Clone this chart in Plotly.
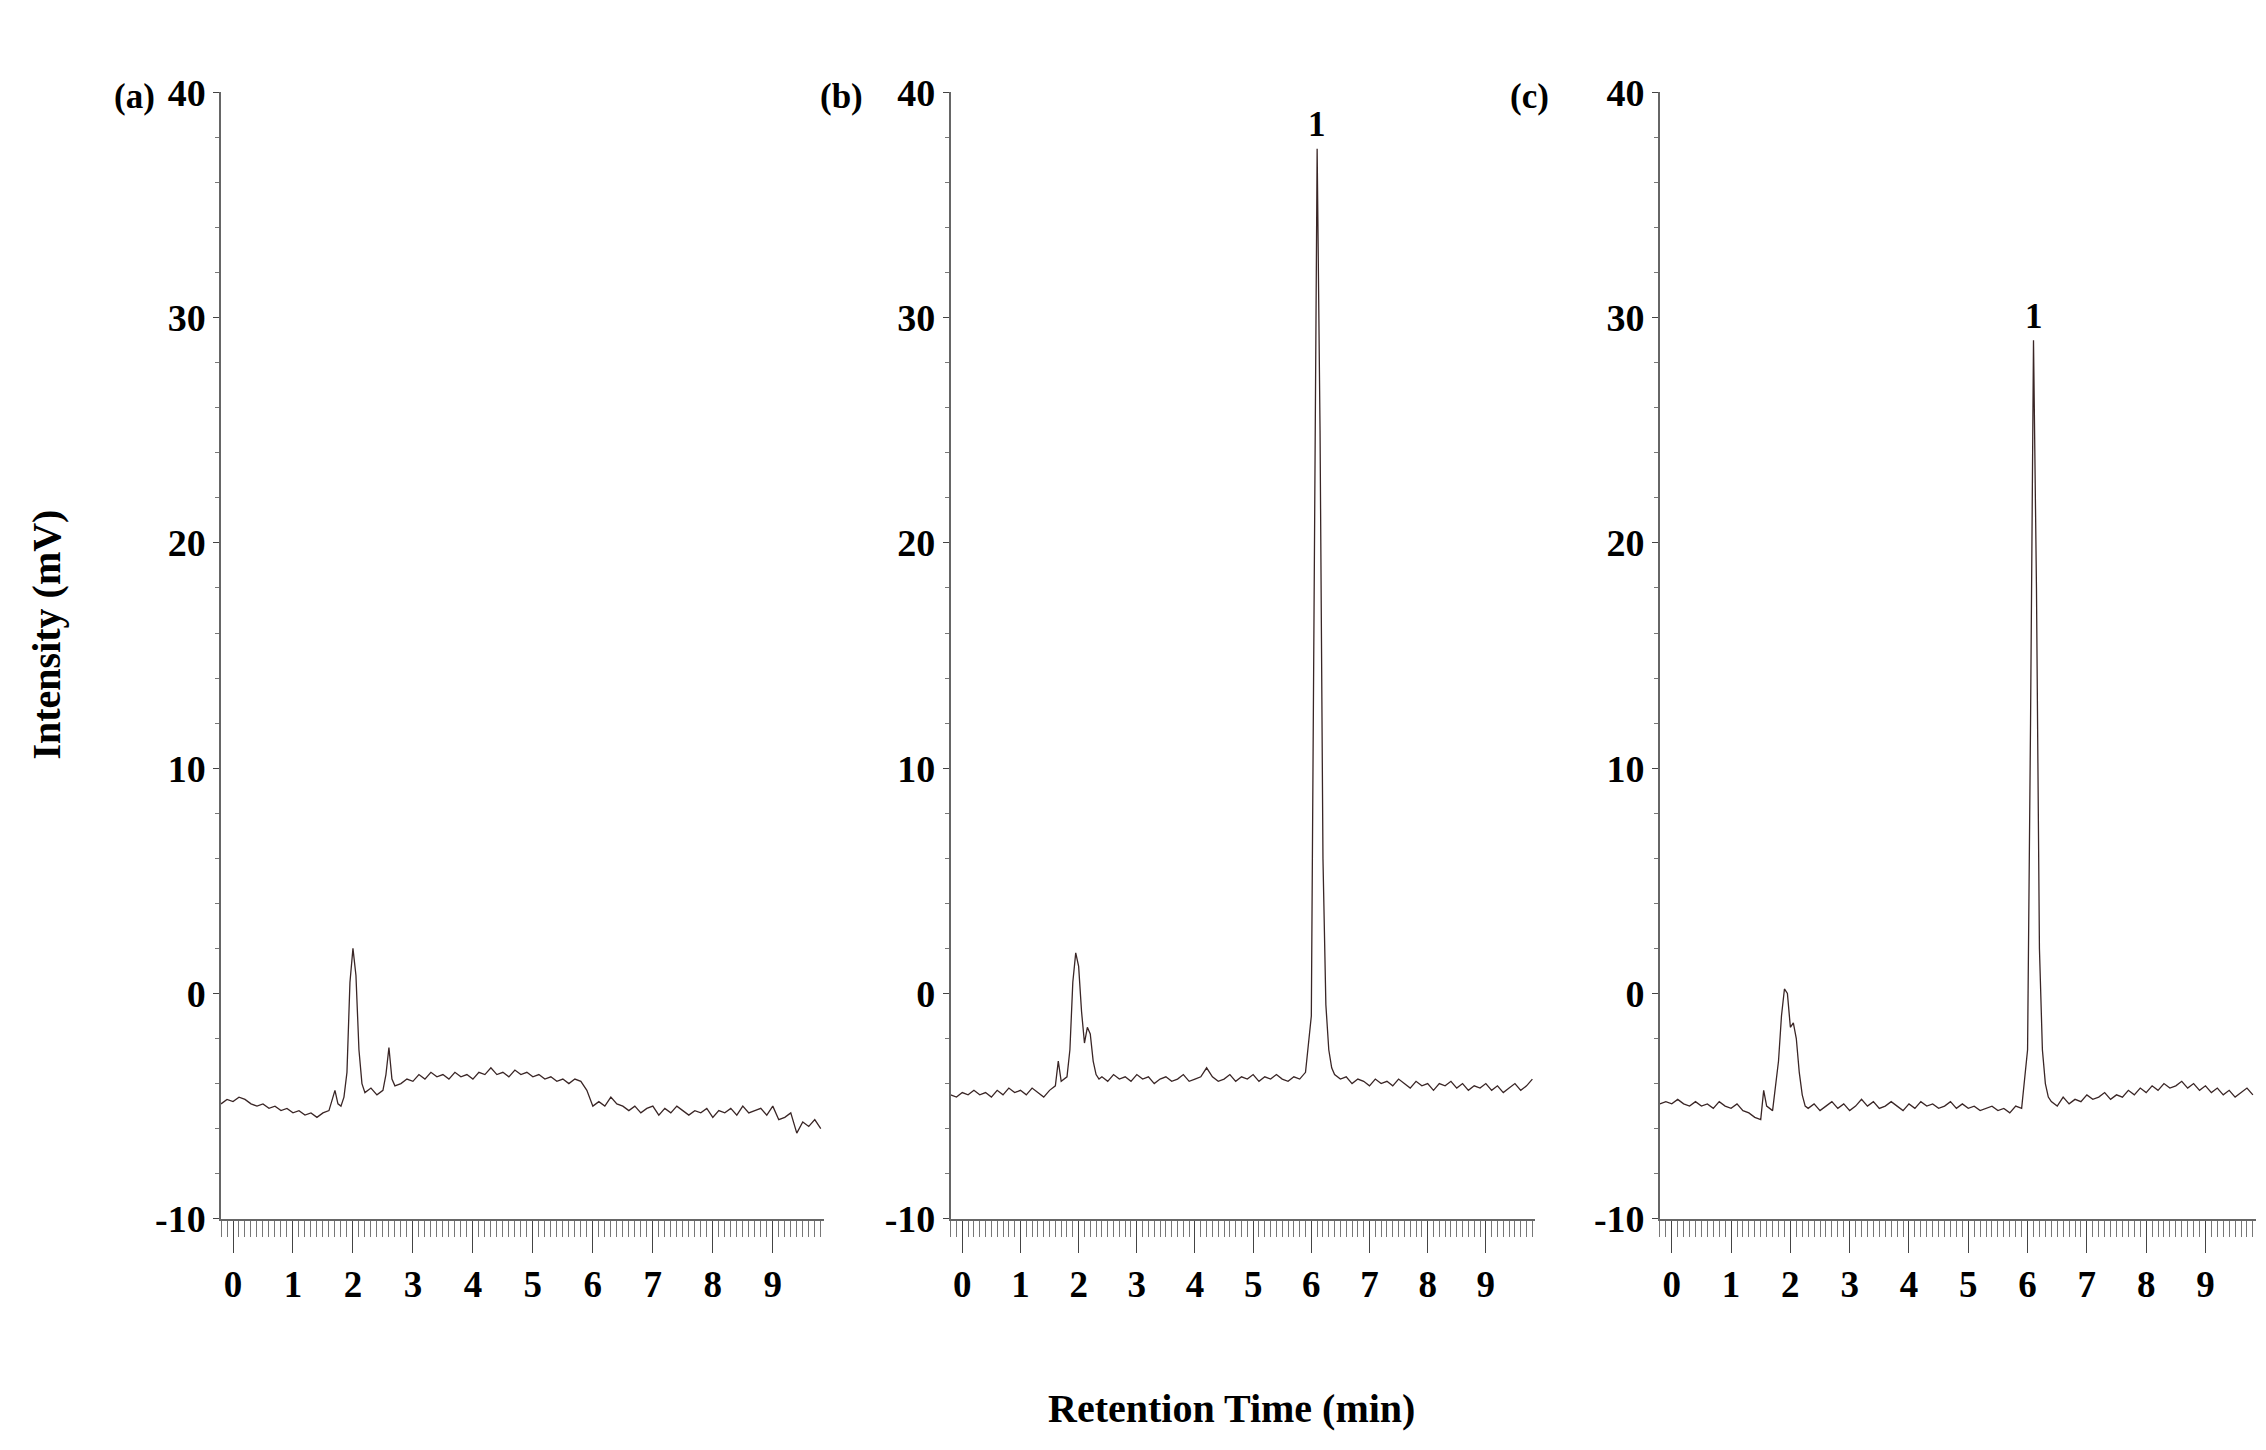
import plotly.graph_objects as go

# Panel (a)
a_x = [-0.2,-0.1,0.0,0.1,0.2,0.3,0.4,0.5,0.6,0.7,0.8,0.9,1.0,1.1,1.2,1.3,1.4,1.5,1.6,1.7,1.75,1.8,1.85,1.9,1.95,2.0,2.05,2.1,2.15,2.2,2.3,2.4,2.5,2.55,2.6,2.65,2.7,2.8,2.9,3.0,3.1,3.2,3.3,3.4,3.5,3.6,3.7,3.8,3.9,4.0,4.1,4.2,4.3,4.4,4.5,4.6,4.7,4.8,4.9,5.0,5.1,5.2,5.3,5.4,5.5,5.6,5.7,5.8,5.9,6.0,6.1,6.2,6.3,6.4,6.5,6.6,6.7,6.8,6.9,7.0,7.1,7.2,7.3,7.4,7.5,7.6,7.7,7.8,7.9,8.0,8.1,8.2,8.3,8.4,8.5,8.6,8.7,8.8,8.9,9.0,9.1,9.2,9.3,9.4,9.5,9.6,9.7,9.8]
a_y = [-4.9,-4.7,-4.8,-4.6,-4.7,-4.9,-5.0,-4.9,-5.1,-5.0,-5.2,-5.1,-5.3,-5.2,-5.4,-5.3,-5.5,-5.3,-5.2,-4.3,-4.9,-5.0,-4.6,-3.5,0.5,2.0,0.8,-2.5,-4.0,-4.4,-4.2,-4.5,-4.3,-3.6,-2.4,-3.8,-4.1,-4.0,-3.8,-3.9,-3.6,-3.8,-3.5,-3.7,-3.6,-3.8,-3.5,-3.7,-3.6,-3.8,-3.5,-3.6,-3.3,-3.6,-3.5,-3.7,-3.4,-3.6,-3.5,-3.7,-3.6,-3.8,-3.7,-3.9,-3.8,-4.0,-3.8,-3.9,-4.3,-5.0,-4.8,-5.0,-4.6,-4.9,-5.0,-5.2,-5.0,-5.3,-5.1,-5.0,-5.4,-5.1,-5.3,-5.0,-5.2,-5.4,-5.2,-5.3,-5.1,-5.5,-5.2,-5.3,-5.1,-5.4,-5.0,-5.3,-5.2,-5.1,-5.4,-5.0,-5.6,-5.5,-5.3,-6.2,-5.7,-5.9,-5.6,-6.0]

# Panel (b)
b_x = [-0.2,-0.1,0.0,0.1,0.2,0.3,0.4,0.5,0.6,0.7,0.8,0.9,1.0,1.1,1.2,1.3,1.4,1.5,1.6,1.65,1.7,1.8,1.85,1.9,1.95,2.0,2.05,2.1,2.15,2.2,2.25,2.3,2.35,2.4,2.5,2.6,2.7,2.8,2.9,3.0,3.1,3.2,3.3,3.4,3.5,3.6,3.7,3.8,3.9,4.0,4.1,4.2,4.3,4.4,4.5,4.6,4.7,4.8,4.9,5.0,5.1,5.2,5.3,5.4,5.5,5.6,5.7,5.8,5.9,6.0,6.05,6.1,6.15,6.2,6.25,6.3,6.35,6.4,6.5,6.6,6.7,6.8,6.9,7.0,7.1,7.2,7.3,7.4,7.5,7.6,7.7,7.8,7.9,8.0,8.1,8.2,8.3,8.4,8.5,8.6,8.7,8.8,8.9,9.0,9.1,9.2,9.3,9.4,9.5,9.6,9.7,9.8]
b_y = [-4.5,-4.6,-4.4,-4.5,-4.3,-4.5,-4.4,-4.6,-4.3,-4.5,-4.2,-4.4,-4.3,-4.5,-4.2,-4.4,-4.6,-4.3,-4.1,-3.0,-3.9,-3.7,-2.5,0.5,1.8,1.2,-0.8,-2.2,-1.5,-1.8,-3.0,-3.6,-3.8,-3.7,-3.9,-3.6,-3.8,-3.7,-3.9,-3.6,-3.8,-3.7,-4.0,-3.8,-3.7,-3.9,-3.8,-3.6,-3.9,-3.8,-3.7,-3.3,-3.7,-3.9,-3.8,-3.6,-3.9,-3.7,-3.8,-3.6,-3.9,-3.7,-3.8,-3.6,-3.8,-3.9,-3.7,-3.8,-3.5,-1.0,18.0,37.5,25.0,6.0,-0.5,-2.5,-3.3,-3.6,-3.8,-3.7,-4.0,-3.8,-3.9,-4.1,-3.8,-4.0,-3.9,-4.1,-3.8,-4.0,-4.2,-3.9,-4.1,-4.0,-4.3,-4.0,-4.1,-3.9,-4.2,-4.0,-4.3,-4.1,-4.2,-4.0,-4.3,-4.1,-4.4,-4.2,-4.0,-4.3,-4.1,-3.8]

# Panel (c)
c_x = [-0.2,-0.1,0.0,0.1,0.2,0.3,0.4,0.5,0.6,0.7,0.8,0.9,1.0,1.1,1.2,1.3,1.4,1.5,1.55,1.6,1.7,1.8,1.85,1.9,1.95,2.0,2.05,2.1,2.15,2.2,2.25,2.3,2.4,2.5,2.6,2.7,2.8,2.9,3.0,3.1,3.2,3.3,3.4,3.5,3.6,3.7,3.8,3.9,4.0,4.1,4.2,4.3,4.4,4.5,4.6,4.7,4.8,4.9,5.0,5.1,5.2,5.3,5.4,5.5,5.6,5.7,5.8,5.9,6.0,6.05,6.1,6.15,6.2,6.25,6.3,6.35,6.4,6.5,6.6,6.7,6.8,6.9,7.0,7.1,7.2,7.3,7.4,7.5,7.6,7.7,7.8,7.9,8.0,8.1,8.2,8.3,8.4,8.5,8.6,8.7,8.8,8.9,9.0,9.1,9.2,9.3,9.4,9.5,9.6,9.7,9.8]
c_y = [-4.9,-4.8,-4.9,-4.7,-4.9,-5.0,-4.8,-5.0,-4.9,-5.1,-4.8,-5.0,-5.1,-4.9,-5.2,-5.3,-5.5,-5.6,-4.3,-5.0,-5.2,-3.0,-1.0,0.2,0.0,-1.5,-1.3,-2.0,-3.5,-4.5,-5.0,-5.1,-4.9,-5.2,-5.0,-4.8,-5.1,-4.9,-5.2,-5.0,-4.7,-5.0,-4.8,-5.1,-5.0,-4.8,-5.0,-5.2,-4.9,-5.1,-4.8,-5.0,-4.9,-5.1,-5.0,-4.8,-5.1,-4.9,-5.1,-5.0,-5.2,-5.1,-5.0,-5.2,-5.1,-5.3,-5.0,-5.1,-2.5,12.0,29.0,18.0,2.0,-2.5,-4.0,-4.6,-4.8,-5.0,-4.6,-4.9,-4.7,-4.8,-4.5,-4.7,-4.6,-4.4,-4.7,-4.5,-4.6,-4.3,-4.5,-4.2,-4.4,-4.1,-4.3,-4.0,-4.2,-4.1,-3.9,-4.2,-4.0,-4.3,-4.1,-4.4,-4.2,-4.5,-4.3,-4.6,-4.4,-4.2,-4.5,-4.1]

x_ticks = [0, 1, 2, 3, 4, 5, 6, 7, 8, 9]
y_ticks = [-10, 0, 10, 20, 30, 40]
y_labels = ["<b>-10</b>", "<b>0</b>", "<b>10</b>", "<b>20</b>", "<b>30</b>", "<b>40</b>"]
x_labels = ["<b>%d</b>" % v for v in x_ticks]
panel_labels = ["(a)", "(b)", "(c)"]

domains = [(0.094, 0.360), (0.416, 0.674), (0.729, 0.992)]
ydom = (0.155, 0.955)
FONT = "Liberation Serif"
fig = go.Figure()
data = [(a_x, a_y), (b_x, b_y), (c_x, c_y)]
for i, (xs, ys) in enumerate(data):
    n = "" if i == 0 else str(i + 1)
    fig.add_trace(go.Scatter(x=xs, y=ys, mode="lines", line=dict(color="#3a2626", width=1.3),
                             xaxis="x" + n, yaxis="y" + n, showlegend=False))
    ax = dict(domain=list(domains[i]), range=[-0.2, 9.85], anchor="y" + n,
              tickvals=x_ticks, ticktext=x_labels, ticks="outside", ticklen=32, tickcolor="#444",
              minor=dict(dtick=0.1, ticklen=16, ticks="outside", tickcolor="#777"),
              showline=True, linecolor="#666", linewidth=1.5, showgrid=False, zeroline=False,
              tickfont=dict(family=FONT, size=37, color="black"))
    ay = dict(domain=list(ydom), range=[-10, 40], anchor="x" + n,
              tickvals=y_ticks, ticktext=y_labels, ticks="outside", ticklen=6, tickcolor="#444",
              minor=dict(dtick=2, ticklen=4, ticks="outside", tickcolor="#777"),
              showline=True, linecolor="#666", linewidth=1.5, showgrid=False, zeroline=False,
              tickfont=dict(family=FONT, size=38, color="black"))
    fig.layout["xaxis" + n] = ax
    fig.layout["yaxis" + n] = ay
    fig.add_annotation(x=domains[i][0] - 0.048, y=ydom[1] + 0.012, xref="paper", yref="paper",
                       text="<b>" + panel_labels[i] + "</b>", showarrow=False,
                       font=dict(family=FONT, size=35, color="black"))

fig.add_annotation(x=6.1, y=37.5, xref="x2", yref="y2", text="<b>1</b>", showarrow=False,
                   yshift=24, font=dict(family=FONT, size=35, color="black"))
fig.add_annotation(x=6.1, y=29, xref="x3", yref="y3", text="<b>1</b>", showarrow=False,
                   yshift=24, font=dict(family=FONT, size=35, color="black"))
fig.add_annotation(x=0.54, y=0.003, xref="paper", yref="paper", yanchor="bottom",
                   text="<b>Retention Time (min)</b>", showarrow=False,
                   font=dict(family=FONT, size=40, color="black"))
fig.add_annotation(x=0.006, y=0.57, xref="paper", yref="paper", textangle=-90, xanchor="left",
                   text="<b>Intensity (mV)</b>", showarrow=False,
                   font=dict(family=FONT, size=40, color="black"))

fig.update_layout(width=2266, height=1450, margin=dict(l=0, r=0, t=0, b=0),
                  plot_bgcolor="white", paper_bgcolor="white")
fig.write_html("out.html")
